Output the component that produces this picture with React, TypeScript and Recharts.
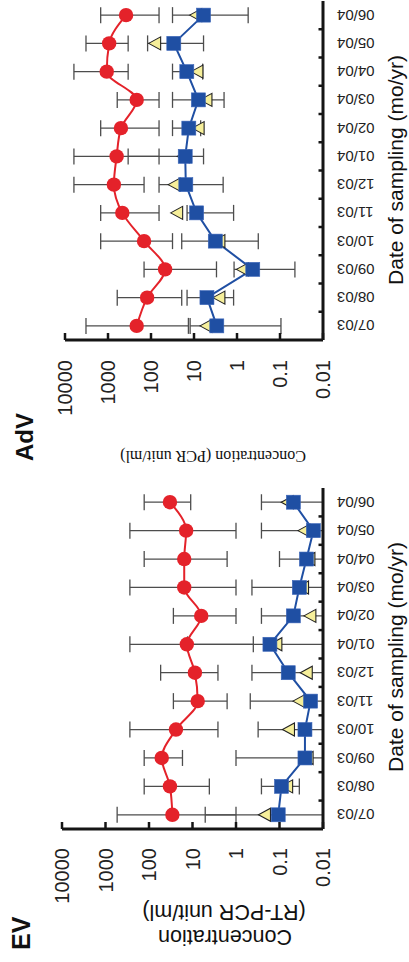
import React from 'react';
import { LineChart, Line, XAxis, YAxis, ErrorBar } from 'recharts';

const months = ['07/03', '08/03', '09/03', '10/03', '11/03', '12/03', '01/04', '02/04', '03/04', '04/04', '05/04', '06/04'];

// EV panel
const evRed = [29, 33, 51, 24, 7.6, 8.8, 13.5, 6.3, 15.5, 15.5, 14, 33];
const evRedLo = [1.0, 4.1, 17, 2.6, 1.6, 2.6, 0.4, 1.0, 1.0, 1.6, 1.0, 11];
const evRedHi = [540, 129, 129, 275, 27.5, 54, 275, 27.5, 275, 129, 275, 129];
const evBlue = [0.107, 0.09, 0.026, 0.026, 0.0193, 0.063, 0.166, 0.048, 0.035, 0.024, 0.0166, 0.048];
const evBlueLo = [0.01, 0.035, 0.01, 0.01, 0.01, 0.01, 0.01, 0.01, 0.01, 0.01, 0.01, 0.01];
const evBlueHi = [5.1, 0.26, 1.0, 0.31, 0.47, 0.43, 13, 0.26, 0.43, 0.1, 0.26, 0.26];
const evYellow = [0.21, 0.065, 0.022, 0.059, 0.034, 0.023, 0.115, 0.019, 0.028, 0.02, 0.026, 0.063];

// AdV panel
const advRed = [215, 123, 47, 145, 465, 730, 630, 500, 215, 1070, 940, 380];
const advRedLo = [13.5, 19.3, 3.0, 31.6, 65, 145, 65, 65, 65, 340, 340, 65];
const advRedHi = [3250, 610, 145, 1480, 1480, 6200, 6200, 1480, 610, 6200, 3250, 1480];
const advBlue = [2.95, 5.0, 0.43, 3.2, 8.7, 15.5, 16, 13.2, 7.9, 14.7, 29.5, 6.0];
const advBlueLo = [0.095, 1.2, 0.045, 0.32, 1.2, 2.1, 6.0, 7.0, 2.0, 6.3, 6.0, 0.55];
const advBlueHi = [12.3, 14.5, 1.17, 19.3, 14.5, 65, 340, 31.6, 31.6, 31.6, 120, 31.6];
const advYellow = [5.0, 2.5, 0.71, 2.5, 24, 27.5, 17, 7.6, 5.0, 8.1, 78, 8.7];

const valueTicks = [0.01, 0.1, 1, 10, 100, 1000, 10000];
const valueTickLabels = ['0.01', '0.1', '1', '10', '100', '1000', '10000'];

const FONT = '"Liberation Sans", Arial, Helvetica, sans-serif';
const RED = '#e4222a';
const BLUE = '#1f4fa3';
const YELLOW = '#f6ef9a';
const ERR = '#4d4d4d';
const AXIS = '#151515';

function buildRows(red: number[], redLo: number[], redHi: number[], blue: number[], blueLo: number[], blueHi: number[], yellow: number[]) {
  return months.map((m, i) => ({
    idx: i + 1,
    month: m,
    red: red[i],
    redErr: [red[i] - redLo[i], redHi[i] - red[i]],
    blue: blue[i],
    blueErr: [blue[i] - blueLo[i], blueHi[i] - blue[i]],
    yellow: yellow[i],
  }));
}

const evRows = buildRows(evRed, evRedLo, evRedHi, evBlue, evBlueLo, evBlueHi, evYellow);
const advRows = buildRows(advRed, advRedLo, advRedHi, advBlue, advBlueLo, advBlueHi, advYellow);

const xTicks = [...months.map((_, i) => i + 1), ...months.slice(1).map((_, i) => i + 1.5)].sort((a, b) => a - b);

const XTick = (props: any) => {
  const { x, y, payload } = props;
  const v = payload.value;
  if (Number.isInteger(v)) {
    const ty = y + 14;
    return (
      <text x={x} y={ty} transform={`rotate(-90, ${x}, ${ty})`} textAnchor="end" dy="0.36em" fontSize={15} fill="#222" fontFamily={FONT}>
        {months[v - 1]}
      </text>
    );
  }
  return <line x1={x} x2={x} y1={y} y2={y - 4.5} stroke={AXIS} strokeWidth={2.5} />;
};

const makeYTick = (gap: number) => (props: any) => {
  const { x, y, payload } = props;
  const i = valueTicks.indexOf(payload.value);
  return (
    <g>
      <line x1={x} x2={x + 7} y1={y} y2={y} stroke={AXIS} strokeWidth={2.5} />
      <text x={x - gap} y={y} dy="0.36em" textAnchor="end" fontSize={20} fill="#222" fontFamily={FONT}>
        {i >= 0 ? valueTickLabels[i] : ''}
      </text>
    </g>
  );
};

const circleDot = (p: any) => {
  if (p.cx == null || p.cy == null) return <g key={p.index} />;
  return <circle key={p.index} cx={p.cx} cy={p.cy} r={7.2} fill={RED} stroke="none" />;
};
const squareDot = (p: any) => {
  if (p.cx == null || p.cy == null) return <g key={p.index} />;
  return <rect key={p.index} x={p.cx - 7} y={p.cy - 7} width={14} height={14} fill={BLUE} stroke="#3a64b8" strokeWidth={0.6} />;
};
const triDot = (p: any) => {
  if (p.cx == null || p.cy == null) return <g key={p.index} />;
  const { cx, cy } = p;
  const pts = `${cx},${cy - 7} ${cx - 6.5},${cy + 5} ${cx + 6.5},${cy + 5}`;
  return <polygon key={p.index} points={pts} fill={YELLOW} stroke="#222" strokeWidth={1.1} strokeLinejoin="miter" />;
};

function Panel({ rows, width, top, right, yAxisWidth, labelGap }: any) {
  return (
    <LineChart width={width} height={409} data={rows} margin={{ top, right, bottom: 0, left: 0 }}>
      <XAxis
        dataKey="idx"
        type="number"
        domain={[0.5, 12.5]}
        ticks={xTicks}
        interval={0}
        height={86}
        tickLine={false}
        tickSize={0}
        tickMargin={0}
        axisLine={{ stroke: AXIS, strokeWidth: 3 }}
        tick={(p: any) => <XTick {...p} />}
      />
      <YAxis
        type="number"
        scale="log"
        domain={[0.01, 10000]}
        allowDataOverflow
        ticks={valueTicks}
        interval={0}
        width={yAxisWidth}
        tickLine={false}
        tickSize={0}
        tickMargin={0}
        axisLine={{ stroke: AXIS, strokeWidth: 3 }}
        tick={makeYTick(labelGap)}
      />
      <Line dataKey="blue" stroke="none" dot={false} activeDot={false} isAnimationActive={false} legendType="none">
        <ErrorBar dataKey="blueErr" width={8} stroke={ERR} strokeWidth={1.3} direction="y" isAnimationActive={false} />
      </Line>
      <Line dataKey="yellow" stroke="none" dot={triDot} activeDot={false} isAnimationActive={false} />
      <Line dataKey="blue" type="linear" stroke={BLUE} strokeWidth={2} dot={squareDot} activeDot={false} isAnimationActive={false} />
      <Line dataKey="red" type="monotone" stroke={RED} strokeWidth={2} dot={circleDot} activeDot={false} isAnimationActive={false}>
        <ErrorBar dataKey="redErr" width={8} stroke={ERR} strokeWidth={1.3} direction="y" isAnimationActive={false} />
      </Line>
    </LineChart>
  );
}

export default function App() {
  return (
    <div style={{ position: 'absolute', left: 0, top: 0, width: 409, height: 962, overflow: 'hidden', background: '#fff' }}>
      <div
        style={{
          position: 'absolute',
          left: 0,
          top: 0,
          width: 962,
          height: 409,
          transform: 'translate(0px, 962px) rotate(-90deg)',
          transformOrigin: '0 0',
        }}
      >
        <div style={{ position: 'absolute', left: 0, top: 0 }}>
          <Panel rows={evRows} width={480} top={62} right={6} yAxisWidth={133} labelGap={19} />
        </div>
        <div style={{ position: 'absolute', left: 480, top: 0 }}>
          <Panel rows={advRows} width={482} top={65} right={1} yAxisWidth={142} labelGap={20} />
        </div>
        <svg width={962} height={409} style={{ position: 'absolute', left: 0, top: 0, pointerEvents: 'none' }}>
          <text x={12} y={30} fontSize={25} fontWeight="bold" fontFamily={FONT} fill="#111">EV</text>
          <text x={501} y={33} fontSize={24} fontWeight="bold" fontFamily={FONT} fill="#111">AdV</text>
          <g transform="rotate(-90)" fontFamily={FONT} fontSize={21.5} fill="#111" textAnchor="middle">
            <text x={-225} y={32}>Concentration</text>
            <text x={-224} y={57}>(RT-PCR unit/ml)</text>
          </g>
          <g transform="rotate(-90)">
            <text x={-213} y={511} fontSize={16} fontFamily='"Liberation Serif", "Times New Roman", serif' fill="#111" textAnchor="middle">
              Concentration (PCR unit/ml)
            </text>
          </g>
          <text x={305} y={403} fontSize={21} fontFamily={FONT} fill="#111" textAnchor="middle">Date of sampling (mo/yr)</text>
          <text x={792} y={403} fontSize={21} fontFamily={FONT} fill="#111" textAnchor="middle">Date of sampling (mo/yr)</text>
        </svg>
      </div>
    </div>
  );
}
